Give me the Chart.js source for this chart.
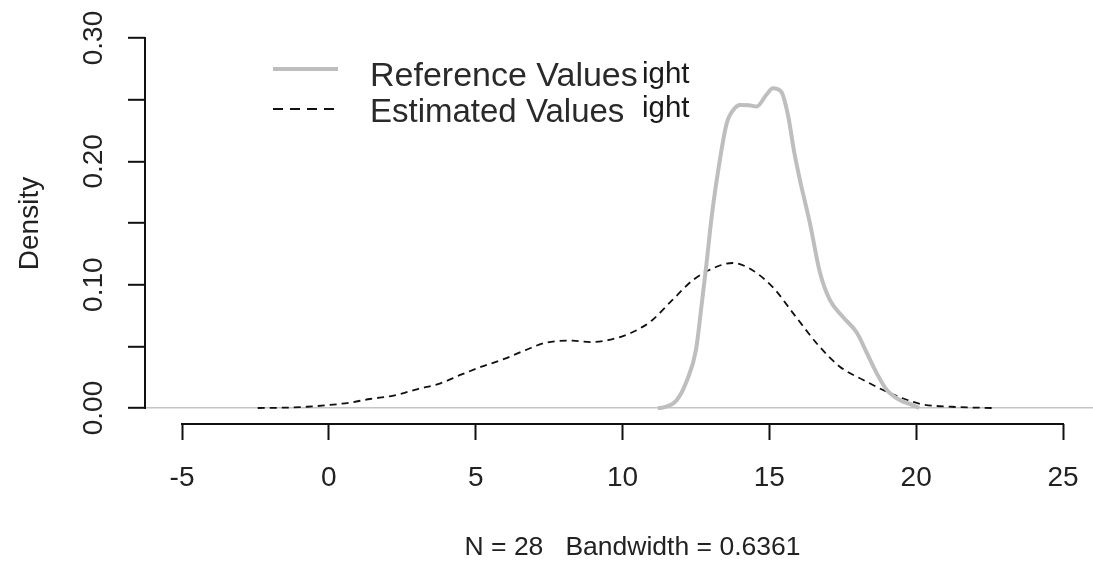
<!DOCTYPE html>
<html><head><meta charset="utf-8">
<script src="https://cdn.jsdelivr.net/npm/chart.js@4.4.1/dist/chart.umd.min.js"></script>
<style>html,body{margin:0;padding:0;background:#fff;overflow:hidden}#wrap{width:1120px;height:562px;position:relative}</style>
</head><body><div id="wrap"><canvas id="c"></canvas></div>
<script>
// ---- data ----
const refX = [11.2, 11.4, 11.85, 12.2, 12.5, 12.7, 12.85, 13.05, 13.3, 13.55, 13.82, 14.0, 14.3, 14.57, 14.9, 15.12, 15.4, 15.63, 15.85, 16.04, 16.38, 16.72, 17.06, 17.5, 17.98, 18.32, 18.66, 19.0, 19.44, 19.88, 20.1];
const refY = [0.0, 0.0005, 0.0065, 0.0227, 0.047, 0.085, 0.115, 0.158, 0.199, 0.231, 0.243, 0.2457, 0.2455, 0.2445, 0.254, 0.2593, 0.2566, 0.238, 0.207, 0.185, 0.150, 0.110, 0.0876, 0.074, 0.061, 0.0446, 0.028, 0.0146, 0.0065, 0.0024, 0.0];
const estX = [-2.42, -1.5, -0.75, 0.0, 0.7, 1.4, 2.2, 3.0, 3.8, 4.5, 5.2, 6.0, 6.7, 7.4, 8.3, 8.9, 9.6, 10.3, 10.7, 11.0, 11.7, 12.4, 13.1, 13.75, 14.3, 15.1, 15.9, 16.7, 17.4, 18.2, 19.0, 19.7, 20.2, 21.2, 22.6];
const estY = [0.0, 0.0003, 0.001, 0.0024, 0.0043, 0.0073, 0.010, 0.0152, 0.020, 0.027, 0.0335, 0.040, 0.047, 0.053, 0.0546, 0.0535, 0.0555, 0.061, 0.066, 0.071, 0.0876, 0.1038, 0.1135, 0.1176, 0.1135, 0.0984, 0.074, 0.050, 0.0335, 0.0227, 0.0132, 0.0065, 0.003, 0.001, 0.0];
const xTickValues = [-5, 0, 5, 10, 15, 20, 25];
const xTickLabels = ['-5', '0', '5', '10', '15', '20', '25'];
const yTickValues = [0, 0.05, 0.10, 0.15, 0.20, 0.25, 0.30];
const yTickLabels = ['0.00', '', '0.10', '', '0.20', '', '0.30'];
const seriesNames = ['Reference Values', 'Estimated Values'];
const legendSuffix = 'ight';
const xTitle = 'N = 28   Bandwidth = 0.6361';
const yTitle = 'Density';

const FONT = '"Liberation Sans", Arial, sans-serif';
const TXT = '#222';

const axisPlugin = {
  id: 'rAxes',
  afterDraw(chart) {
    const {ctx, chartArea, scales: {x, y}} = chart;
    ctx.save();
    ctx.strokeStyle = '#111';
    ctx.lineWidth = 2;
    ctx.beginPath();
    const yb = Math.round(chartArea.bottom);
    ctx.moveTo(x.getPixelForValue(xTickValues[0]) - 1, yb);
    ctx.lineTo(x.getPixelForValue(xTickValues[xTickValues.length - 1]) + 1, yb);
    const xl = Math.round(chartArea.left);
    ctx.moveTo(xl, y.getPixelForValue(yTickValues[0]) + 1);
    ctx.lineTo(xl, y.getPixelForValue(yTickValues[yTickValues.length - 1]) - 1);
    ctx.stroke();

    // legend
    const lx0 = 273, lx1 = 338, tx = 370;
    const rows = [69, 109];
    ctx.lineWidth = 4; ctx.strokeStyle = '#bebebe'; ctx.setLineDash([]);
    ctx.beginPath(); ctx.moveTo(lx0, rows[0]); ctx.lineTo(lx1, rows[0]); ctx.stroke();
    ctx.lineWidth = 1.8; ctx.strokeStyle = '#111'; ctx.setLineDash([10, 7]);
    ctx.beginPath(); ctx.moveTo(lx0, rows[1]); ctx.lineTo(lx1, rows[1]); ctx.stroke();
    ctx.setLineDash([]);
    ctx.fillStyle = '#2a2a2a';
    ctx.textBaseline = 'alphabetic';
    ctx.textAlign = 'left';
    ctx.font = '34px ' + FONT;
    ctx.fillText(seriesNames[0], tx, 86);
    ctx.font = '33px ' + FONT;
    ctx.fillText(seriesNames[1], tx, 122);
    ctx.fillStyle = '#1a1a1a';
    ctx.font = '29.5px ' + FONT;
    ctx.fillText(legendSuffix, 642, 83);
    ctx.fillText(legendSuffix, 642, 117);
    ctx.restore();
  }
};

new Chart(document.getElementById('c'), {
  type: 'line',
  data: {
    datasets: [
      { label: seriesNames[0], data: refX.map((v, i) => ({x: v, y: refY[i]})), borderColor: '#bebebe', borderWidth: 4, pointRadius: 0, cubicInterpolationMode: 'monotone', fill: false },
      { label: seriesNames[1], data: estX.map((v, i) => ({x: v, y: estY[i]})), borderColor: '#111', borderWidth: 1.8, borderDash: [7, 5], pointRadius: 0, cubicInterpolationMode: 'monotone', fill: false }
    ]
  },
  options: {
    responsive: true,
    maintainAspectRatio: false,
    animation: false,
    layout: { padding: { top: 23, right: 0, left: 0, bottom: 0 } },
    plugins: { legend: { display: false }, tooltip: { enabled: false } },
    scales: {
      x: {
        type: 'linear', min: -6.26, max: 26.94,
        afterBuildTicks: s => { s.ticks = xTickValues.map(v => ({value: v})); },
        afterFit: s => { s.height = 138; },
        border: { display: false },
        grid: { drawOnChartArea: false, drawTicks: true, tickLength: 16, tickColor: '#111', tickWidth: 2 },
        ticks: { autoSkip: false, maxRotation: 0, minRotation: 0, padding: 21, color: TXT, font: { family: FONT, size: 28 },
          callback: (v, i) => xTickLabels[i] },
        title: { display: true, text: xTitle, color: TXT, font: { family: FONT, size: 26.5, lineHeight: 1 }, padding: { top: 0, bottom: 0.75 } }
      },
      y: {
        type: 'linear', min: -0.01297, max: 0.3122,
        afterBuildTicks: s => { s.ticks = yTickValues.map(v => ({value: v})); },
        afterFit: s => { s.width = 145; },
        border: { display: false },
        grid: { drawOnChartArea: true, drawTicks: true, tickLength: 17, tickColor: '#111', tickWidth: 2,
          color: c => (c.tick && c.tick.value === 0) ? '#c4c4c4' : 'rgba(0,0,0,0)', lineWidth: 1.6 },
        ticks: { autoSkip: false, minRotation: 90, maxRotation: 90, crossAlign: 'center', padding: 6, color: TXT, font: { family: FONT, size: 28 },
          callback: (v, i) => yTickLabels[i] },
        title: { display: true, text: yTitle, color: TXT, font: { family: FONT, size: 28 }, padding: { top: 13, bottom: 0 } }
      }
    }
  },
  plugins: [axisPlugin]
});
</script>
</body></html>
